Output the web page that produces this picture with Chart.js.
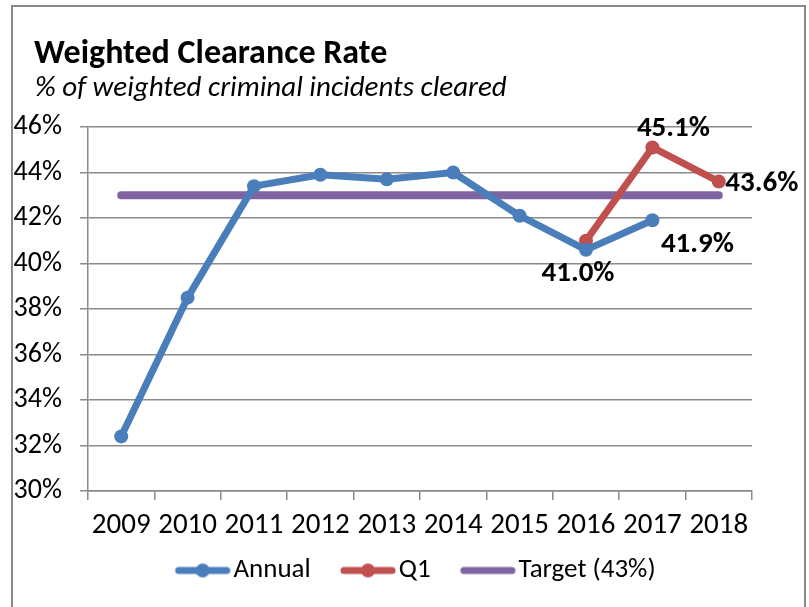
<!DOCTYPE html>
<html lang="en">
<head>
    <meta charset="UTF-8">
    <title>Weighted Clearance Rate</title>
    <script src="https://cdn.jsdelivr.net/npm/chart.js"></script>
    <style>
        body {
            margin: 0;
            padding: 0;
            background: #fff;
        }

        .wrap {
            position: relative;
            width: 809px;
            height: 607px;
            overflow: hidden;
        }

        .frame {
            position: absolute;
            left: 11px;
            top: 5px;
            width: 791px;
            height: 620px;
            border: 2px solid #8a8a8a;
            pointer-events: none;
        }
    </style>
</head>
<body>

    <div class="wrap">
        <canvas id="rateChart" width="809" height="607"></canvas>
        <div class="frame"></div>
    </div>

    <script>
        const years = ['2009', '2010', '2011', '2012', '2013', '2014', '2015', '2016', '2017', '2018'];
        const annual = [32.4, 38.5, 43.4, 43.9, 43.7, 44.0, 42.1, 40.6, 41.9, null];
        const q1 = [null, null, null, null, null, null, null, 41.0, 45.1, 43.6];
        const target = [43, 43, 43, 43, 43, 43, 43, 43, 43, 43];

        const FONT = 'Carlito, Lato, sans-serif';
        const BLUE = '#4a7ebb';
        const RED = '#c0504d';
        const PURPLE = '#8064a2';

        // legend icon: line with a dot, drawn at the right of a wider canvas
        function legendIcon(color, dot) {
            const c = document.createElement('canvas');
            c.width = 86;
            c.height = 18;
            const g = c.getContext('2d');
            g.strokeStyle = color;
            g.lineWidth = 7;
            g.lineCap = 'round';
            g.beginPath();
            g.moveTo(34, 9);
            g.lineTo(82, 9);
            g.stroke();
            if (dot) {
                g.fillStyle = color;
                g.beginPath();
                g.arc(58, 9, 7, 0, Math.PI * 2);
                g.fill();
            }
            return c;
        }
        const icons = [legendIcon(BLUE, true), legendIcon(RED, true), legendIcon(PURPLE, false)];

        // title + subtitle, left aligned with the frame
        const heading = {
            id: 'heading',
            afterDraw(chart, args, opts) {
                const ctx = chart.ctx;
                ctx.save();
                ctx.fillStyle = '#000';
                ctx.textAlign = 'left';
                ctx.textBaseline = 'alphabetic';
                ctx.font = 'bold 34px ' + FONT;
                ctx.fillText(opts.title, 34, 63);
                ctx.font = 'italic 29px ' + FONT;
                ctx.fillText(opts.subtitle, 35, 96);
                ctx.restore();
            }
        };

        // bold value labels next to selected points
        const valueLabels = {
            id: 'valueLabels',
            afterDatasetsDraw(chart, args, opts) {
                const ctx = chart.ctx;
                ctx.save();
                ctx.font = opts.font;
                ctx.fillStyle = '#000';
                ctx.textAlign = 'center';
                ctx.textBaseline = 'middle';
                opts.items.forEach(it => {
                    const pt = chart.getDatasetMeta(it.ds).data[it.i];
                    const v = chart.data.datasets[it.ds].data[it.i];
                    ctx.fillText(v.toFixed(1) + '%', pt.x + it.dx, pt.y + it.dy);
                });
                ctx.restore();
            }
        };

        const ctx = document.getElementById('rateChart').getContext('2d');

        new Chart(ctx, {
            type: 'line',
            data: {
                labels: years,
                datasets: [
                    {
                        label: 'Annual',
                        data: annual,
                        borderColor: BLUE,
                        backgroundColor: BLUE,
                        borderWidth: 7,
                        borderJoinStyle: 'round',
                        pointRadius: 7,
                        pointBorderWidth: 0,
                        tension: 0
                    },
                    {
                        label: 'Q1',
                        data: q1,
                        borderColor: RED,
                        backgroundColor: RED,
                        borderWidth: 7,
                        borderJoinStyle: 'round',
                        pointRadius: 7,
                        pointBorderWidth: 0,
                        tension: 0
                    },
                    {
                        label: 'Target (43%)',
                        data: target,
                        borderColor: PURPLE,
                        backgroundColor: PURPLE,
                        borderWidth: 8,
                        borderCapStyle: 'round',
                        pointRadius: 0,
                        tension: 0
                    }
                ]
            },
            options: {
                responsive: false,
                animation: false,
                layout: {
                    padding: { left: 10, right: 8, top: 127, bottom: 13 }
                },
                scales: {
                    x: {
                        offset: true,
                        afterFit(scale) { scale.height = 56; },
                        grid: {
                            offset: true,
                            drawOnChartArea: false,
                            color: '#8a8a8a',
                            lineWidth: 1.5,
                            tickLength: 9
                        },
                        border: { color: '#8a8a8a', width: 1.5 },
                        ticks: {
                            color: '#000',
                            padding: 8,
                            maxRotation: 0,
                            font: { family: FONT, size: 29 }
                        }
                    },
                    y: {
                        min: 30,
                        max: 46,
                        afterFit(scale) { scale.width = 78; },
                        grid: {
                            color: '#8a8a8a',
                            lineWidth: 1.5,
                            tickLength: 8
                        },
                        border: { color: '#8a8a8a', width: 1.5 },
                        ticks: {
                            stepSize: 2,
                            color: '#000',
                            padding: 18,
                            font: { family: FONT, size: 28 },
                            callback: v => v + '%'
                        }
                    },
                    // empty right-hand spacer so the plot ends where the original does
                    spacer: {
                        type: 'linear',
                        position: 'right',
                        afterFit(scale) { scale.width = 49; },
                        grid: { display: false },
                        border: { display: false },
                        ticks: { display: false }
                    }
                },
                plugins: {
                    legend: {
                        position: 'bottom',
                        labels: {
                            usePointStyle: true,
                            pointStyleWidth: 64.5,
                            padding: 10,
                            color: '#000',
                            font: { family: FONT, size: 27 },
                            generateLabels: chart =>
                                Chart.defaults.plugins.legend.labels.generateLabels(chart)
                                    .map((l, i) => ({ ...l, pointStyle: icons[i] }))
                        }
                    },
                    tooltip: { enabled: false },
                    heading: {
                        title: 'Weighted Clearance Rate',
                        subtitle: '% of weighted criminal incidents cleared'
                    },
                    valueLabels: {
                        font: 'bold 29px ' + FONT,
                        items: [
                            { ds: 1, i: 7, dx: -8, dy: 33 },
                            { ds: 1, i: 8, dx: 21, dy: -19 },
                            { ds: 1, i: 9, dx: 43, dy: 2 },
                            { ds: 0, i: 8, dx: 45, dy: 24 }
                        ]
                    }
                }
            },
            plugins: [heading, valueLabels]
        });
    </script>

</body>
</html>
